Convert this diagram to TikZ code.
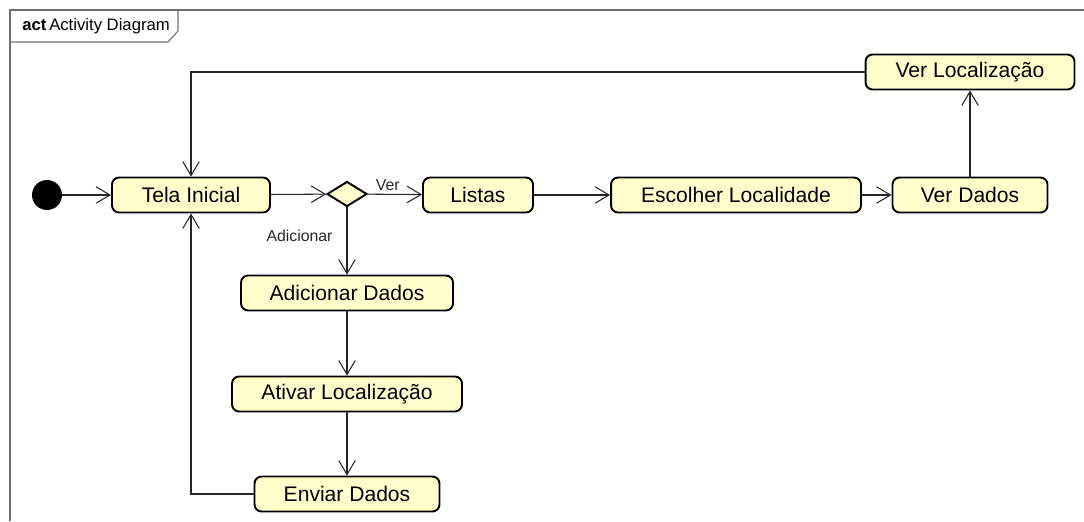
\documentclass[tikz,border=0pt]{standalone}
\usepackage{fontspec}
\setmainfont{Liberation Sans}
\usepackage{xcolor}
\usepackage{tikz}
\usetikzlibrary{shapes,arrows,positioning,calc,arrows.meta}

\definecolor{actfill}{RGB}{255,255,204}
\definecolor{framegray}{RGB}{110,110,110}

\tikzset{
    action/.style={draw, line width=1.1pt, rounded corners=4pt, fill=actfill,
        minimum height=0.7cm, inner sep=2pt, font=\fontsize{12}{14}\selectfont},
    flow/.style={line width=0.6pt, black!85, -{Straight Barb[length=2.8mm,width=3.3mm]}},
    guard/.style={font=\fontsize{9}{11}\selectfont, inner sep=2pt}
}

\begin{document}
\begin{tikzpicture}[x=0.02cm, y=-0.02cm]
    \useasboundingbox (0,0) rectangle (1084,521);
    % frame
    \draw[framegray, line width=0.6pt] (10,521) -- (10,10) -- (1084,10);
    \draw[framegray, line width=0.6pt] (10,42) -- (168,42) -- (178,31) -- (178,10);
    \node[anchor=west, inner sep=0pt, font=\fontsize{9.5}{11}\selectfont] (title) at (22,26) {\textbf{act}\,Activity Diagram};

    % nodes
    \node[circle, fill=black, minimum size=0.6cm, inner sep=0pt] (init) at (47,195) {};
    \node[action, minimum width=3.16cm] (tela) at (191,195) {Tela Inicial};
    \node[diamond, draw, line width=1.1pt, fill=actfill, minimum width=0.8cm, minimum height=0.5cm, inner sep=0pt, aspect=1.6] (dec) at (347,194) {};
    \node[action, minimum width=2.2cm] (listas) at (478,195) {Listas};
    \node[action, minimum width=5cm] (escolher) at (736,195) {Escolher Localidade};
    \node[action, minimum width=3.1cm] (verdados) at (970,195) {Ver Dados};
    \node[action, minimum width=4.18cm] (verloc) at (970,72) {Ver Localização};
    \node[action, minimum width=4.24cm] (adic) at (347,293) {Adicionar Dados};
    \node[action, minimum width=4.6cm] (ativar) at (347,394) {Ativar Localização};
    \node[action, minimum width=3.7cm] (enviar) at (347,494) {Enviar Dados};

    % flows
    \draw[flow] (init) -- (tela);
    \draw[flow] (tela) -- (dec);
    \draw[flow] (dec) -- node[guard, above, xshift=-4pt] {Ver} (listas);
    \draw[flow] (dec) -- node[guard, left, xshift=-6pt, yshift=3pt] {Adicionar} (adic);
    \draw[flow] (listas) -- (escolher);
    \draw[flow] (escolher) -- (verdados);
    \draw[flow] (verdados) -- (verloc);
    \draw[flow] (verloc.west) -| (tela.north);
    \draw[flow] (adic) -- (ativar);
    \draw[flow] (ativar) -- (enviar);
    \draw[flow] (enviar.west) -| (tela.south);
\end{tikzpicture}
\end{document}
